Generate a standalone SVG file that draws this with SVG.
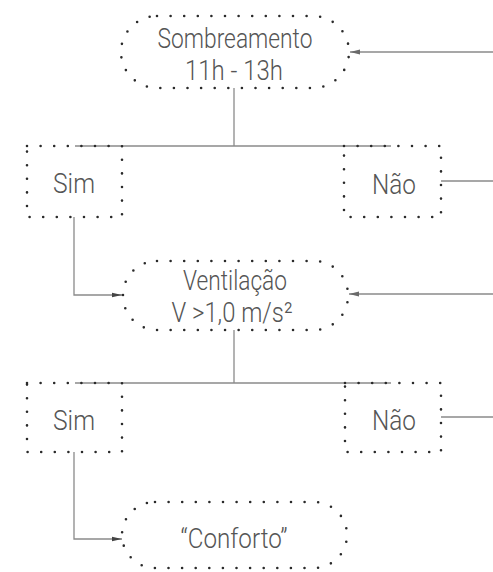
<svg xmlns="http://www.w3.org/2000/svg" width="493" height="572" viewBox="0 0 493 572">
  <style>
    .node { fill: none; stroke: #2a2a2a; stroke-width: 2.6; stroke-linecap: round; stroke-dasharray: 0 13.6; }
    .lbl { font-family: Roboto, "Liberation Sans", sans-serif; font-weight: 300; font-size: 28px; fill: #555; text-anchor: middle; }
    .wire { fill: none; stroke: #8a8a8a; stroke-width: 1.3; }
  </style>
  <defs>
    <marker id="arrow" viewBox="0 0 10 6" refX="10" refY="3" markerWidth="10" markerHeight="6" markerUnits="userSpaceOnUse" orient="auto">
      <path d="M0,0.5 L10,3 L0,5.5 Z" fill="#6a6a6a"/>
    </marker>
    <marker id="arrow-dark" viewBox="0 0 10 6" refX="10" refY="3" markerWidth="10" markerHeight="6" markerUnits="userSpaceOnUse" orient="auto">
      <path d="M0,0.8 L10,3 L0,5.2 Z" fill="#444"/>
    </marker>
  </defs>
  <rect width="493" height="572" fill="#fff"/>

  <g id="connectors">
    <path class="wire" d="M493,52 H350" marker-end="url(#arrow)"/>
    <path class="wire" d="M234,88 V146"/>
    <path class="wire" d="M75,146 H391"/>
    <path class="wire" d="M441,181 H493"/>
    <path class="wire" d="M74,217 V295 H122" marker-end="url(#arrow-dark)"/>
    <path class="wire" d="M493,294 H349" marker-end="url(#arrow)"/>
    <path class="wire" d="M234,330 V383"/>
    <path class="wire" d="M75,383 H391"/>
    <path class="wire" d="M441,417 H493"/>
    <path class="wire" d="M74,452 V539 H122" marker-end="url(#arrow-dark)"/>
  </g>

  <g id="sombreamento">
    <rect class="node" x="121" y="16" width="228" height="72" rx="36"/>
    <text class="lbl" x="235" y="48" textLength="155" lengthAdjust="spacingAndGlyphs">Sombreamento</text>
    <text class="lbl" x="234" y="80" textLength="98" lengthAdjust="spacingAndGlyphs">11h - 13h</text>
  </g>

  <g id="sim-1">
    <rect class="node" x="27" y="146" width="95" height="71"/>
    <text class="lbl" x="74" y="193" textLength="42" lengthAdjust="spacingAndGlyphs">Sim</text>
  </g>

  <g id="nao-1">
    <rect class="node" x="344" y="146" width="97" height="71"/>
    <text class="lbl" x="394" y="194" textLength="44" lengthAdjust="spacingAndGlyphs">Não</text>
  </g>

  <g id="ventilacao">
    <rect class="node" x="123" y="261" width="225" height="69" rx="34"/>
    <text class="lbl" x="235" y="290" textLength="104" lengthAdjust="spacingAndGlyphs">Ventilação</text>
    <text class="lbl" x="232" y="322" textLength="121" lengthAdjust="spacingAndGlyphs">V &gt;1,0 m/s²</text>
  </g>

  <g id="sim-2">
    <rect class="node" x="27" y="383" width="95" height="69"/>
    <text class="lbl" x="74" y="430" textLength="42" lengthAdjust="spacingAndGlyphs">Sim</text>
  </g>

  <g id="nao-2">
    <rect class="node" x="345" y="383" width="96" height="69"/>
    <text class="lbl" x="394" y="430" textLength="44" lengthAdjust="spacingAndGlyphs">Não</text>
  </g>

  <g id="conforto">
    <rect class="node" x="122" y="502" width="225" height="66" rx="33"/>
    <text class="lbl" x="234" y="548" textLength="107" lengthAdjust="spacingAndGlyphs">“Conforto”</text>
  </g>
</svg>
